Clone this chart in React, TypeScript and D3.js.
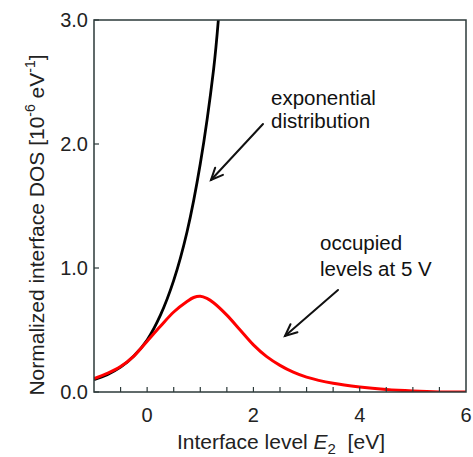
import React from "react";
import * as d3 from "d3";

const expE = [-1, -0.75, -0.5, -0.25, 0, 0.25, 0.5, 0.75, 1.0, 1.25, 1.34];
const expDOS = [0.1, 0.14, 0.2, 0.29, 0.42, 0.62, 0.9, 1.29, 1.84, 2.6, 3.0];

const occE = [-1, -0.75, -0.5, -0.25, 0, 0.25, 0.5, 0.75, 0.875, 1.0, 1.125, 1.25, 1.5, 1.75, 2.0, 2.25, 2.5, 2.75, 3.0, 3.5, 4.0, 4.5, 5.0, 5.5, 6.0];
const occDOS = [0.108, 0.15, 0.205, 0.29, 0.41, 0.53, 0.645, 0.73, 0.762, 0.772, 0.755, 0.72, 0.62, 0.5, 0.38, 0.285, 0.215, 0.16, 0.12, 0.07, 0.04, 0.02, 0.008, 0.001, 0.0];

const xMajor = [0, 2, 4, 6];
const xMinor = [-0.5, 0, 0.5, 1, 1.5, 2, 2.5, 3, 3.5, 4, 4.5, 5, 5.5];
const yMajor = [0, 1, 2, 3];

export default function App() {
  const W = 473, H = 457;
  const L = 94, R = 466, T = 20, B = 392;
  const x = d3.scaleLinear().domain([-1, 6]).range([L, R]);
  const y = d3.scaleLinear().domain([0, 3]).range([B, T]);
  const line = d3
    .line<[number, number]>()
    .x((d) => x(d[0]))
    .y((d) => y(d[1]))
    .curve(d3.curveCatmullRom.alpha(0.5));
  const blackPts = expE.map((e, i) => [e, expDOS[i]] as [number, number]);
  const redPts = occE.map((e, i) => [e, occDOS[i]] as [number, number]);
  const frame = "#2c3a3a";
  const font = "'Liberation Sans', Arial, sans-serif";

  const arrow = (x1: number, y1: number, x2: number, y2: number) => {
    const a = Math.atan2(y2 - y1, x2 - x1);
    const len = 13, spread = 0.42;
    const p1 = [x2 - len * Math.cos(a - spread), y2 - len * Math.sin(a - spread)];
    const p2 = [x2 - len * Math.cos(a + spread), y2 - len * Math.sin(a + spread)];
    return (
      <g stroke="#111" strokeWidth={2} fill="none" strokeLinecap="round">
        <line x1={x1} y1={y1} x2={x2} y2={y2} />
        <polyline points={`${p1[0]},${p1[1]} ${x2},${y2} ${p2[0]},${p2[1]}`} />
      </g>
    );
  };

  return (
    <svg
      width={W}
      height={H}
      style={{ position: "absolute", left: 0, top: 0, background: "#fff" }}
      fontFamily={font}
    >
      <defs>
        <clipPath id="plot">
          <rect x={L} y={T} width={R - L} height={B - T} />
        </clipPath>
      </defs>
      <g clipPath="url(#plot)">
        <path d={line(blackPts) || ""} fill="none" stroke="#000" strokeWidth={2.8} />
        <path d={line(redPts) || ""} fill="none" stroke="#ff0000" strokeWidth={3} />
      </g>
      <rect x={L} y={T} width={R - L} height={B - T} fill="none" stroke={frame} strokeWidth={1.5} />
      {xMinor.map((v) => (
        <line key={"xm" + v} x1={x(v)} x2={x(v)} y1={B} y2={B - 5} stroke={frame} strokeWidth={1.2} />
      ))}
      {yMajor.map((v) => (
        <line key={"ym" + v} x1={L} x2={L + 5} y1={y(v)} y2={y(v)} stroke={frame} strokeWidth={1.2} />
      ))}
      {xMajor.map((v) => (
        <text key={"xl" + v} x={x(v)} y={422} fontSize={20} textAnchor="middle" fill="#222">
          {v}
        </text>
      ))}
      {yMajor.map((v) => (
        <text key={"yl" + v} x={88} y={y(v) + 7} fontSize={20} textAnchor="end" fill="#222">
          {v.toFixed(1)}
        </text>
      ))}
      <text x={281} y={449} fontSize={21} textAnchor="middle" fill="#222">
        Interface level <tspan fontStyle="italic">E</tspan>
        <tspan fontSize={15} dy={5}>2</tspan>
        <tspan dy={-5}>{"\u00a0 [eV]"}</tspan>
      </text>
      <text
        transform="translate(44,225) rotate(-90)"
        fontSize={21}
        textAnchor="middle"
        fill="#222"
      >
        Normalized interface DOS [10
        <tspan fontSize={14} dy={-9}>-6</tspan>
        <tspan dy={9}> eV</tspan>
        <tspan fontSize={14} dy={-9}>-1</tspan>
        <tspan dy={9}>]</tspan>
      </text>
      <text x={271} y={105} fontSize={20.5} fill="#111">exponential</text>
      <text x={271} y={128} fontSize={20.5} fill="#111">distribution</text>
      {arrow(263, 124, 211, 180)}
      <text x={320} y={250} fontSize={20.5} fill="#111">occupied</text>
      <text x={320} y={276} fontSize={20.5} fill="#111">levels at 5 V</text>
      {arrow(338, 290, 285, 336)}
    </svg>
  );
}
